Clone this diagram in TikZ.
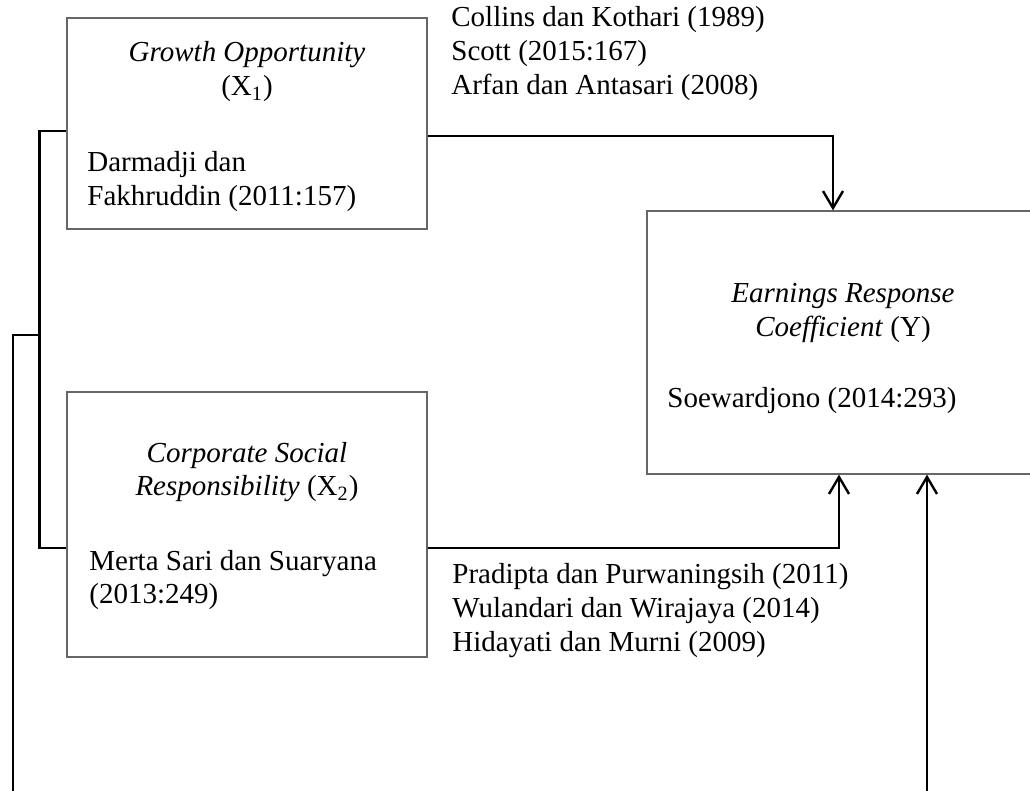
\documentclass[tikz,border=0pt]{standalone}
\usepackage{fontspec}
\setmainfont{Liberation Serif}
\usetikzlibrary{positioning,arrows.meta}
\definecolor{boxgray}{rgb}{0.4,0.4,0.4}

\begin{document}
\begin{tikzpicture}[x=0.5pt,y=-0.5pt,
    font=\fontsize{14.5}{17}\selectfont,
    var/.style={draw=boxgray,line width=0.6pt,inner sep=0pt,minimum width=180pt},
    txt/.style={inner sep=0pt,align=left,anchor=base west},
    ctr/.style={inner sep=0pt,align=center,anchor=base},
    link/.style={line width=1.2pt},
    arr/.style={link,-{Straight Barb[length=8.5pt,width=10pt]}}]

    \useasboundingbox (0,0) rectangle (1030,791);

    % variables
    \node[var,minimum height=105.5pt] (x1) at (247,123.5) {};
    \node[var,minimum height=132.5pt] (x2) at (247,524.5) {};
    \node[var,minimum width=196pt,minimum height=131.5pt] (y) at (843,342.5) {};

    % (base = last line)
    \node[ctr] (x1t) at (247,96) {\textit{Growth Opportunity}\\(X\textsubscript{1})};
    \node[txt] (x1r) at (87,206) {Darmadji dan\\Fakhruddin (2011:157)};
    \node[ctr] (x2t) at (247,496) {\textit{Corporate Social}\\\textit{Responsibility} (X\textsubscript{2})};
    \node[txt] (x2r) at (89,604) {Merta Sari dan Suaryana\\(2013:249)};
    \node[ctr] (yt) at (843,337) {\textit{Earnings Response}\\\textit{Coefficient} (Y)};
    \node[txt] (yr) at (667,408) {Soewardjono (2014:293)};

    % references on the paths
    \node[txt] (ref1) at (451,95) {Collins dan Kothari (1989)\\Scott (2015:167)\\Arfan dan Antasari (2008)};
    \node[txt] (ref2) at (452,652) {Pradipta dan Purwaningsih (2011)\\Wulandari dan Wirajaya (2014)\\Hidayati dan Murni (2009)};

    \coordinate (c1) at (40,335);
    \coordinate (bl) at (13,791);
    \coordinate (br) at (927,791);

    \draw[link] ([yshift=-3.75pt]x1.west) -- ++(-27,0) |- ([yshift=-11.75pt]x2.west);
    \draw[link] (c1) -| (bl);
    \draw[arr] ([yshift=-6.25pt]x1.east) -| ([xshift=-5pt]y.north);
    \draw[arr] ([yshift=-11.75pt]x2.east) -| ([xshift=-2pt]y.south);
    \draw[arr] (br) -- (y.south -| br);
\end{tikzpicture}
\end{document}
